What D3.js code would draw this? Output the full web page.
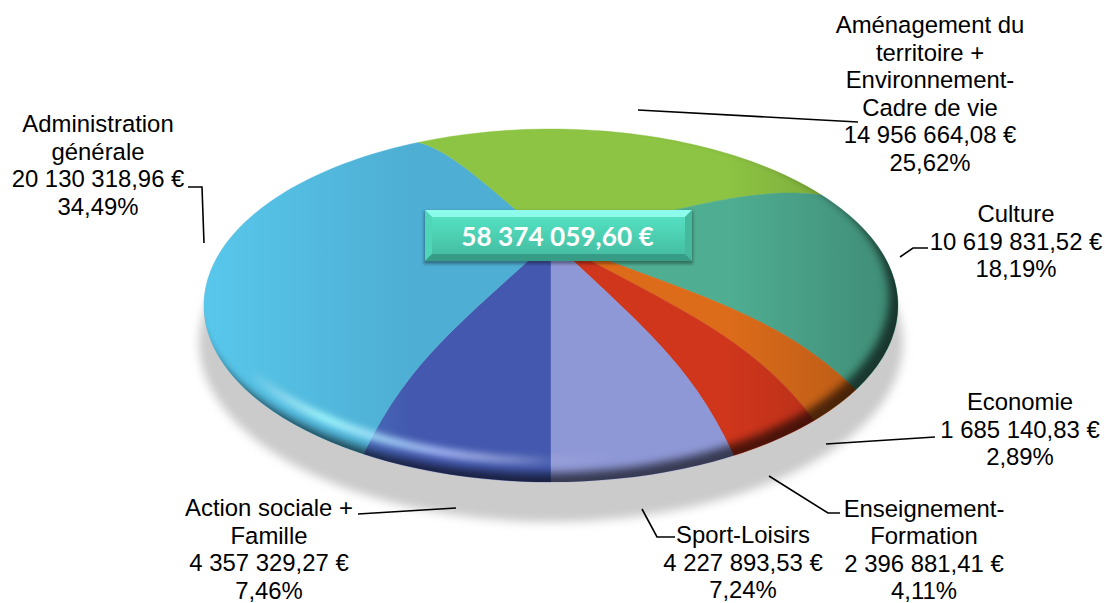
<!DOCTYPE html>
<html><head><meta charset="utf-8">
<script src="https://cdn.jsdelivr.net/npm/d3@7"></script>
<style>html,body{margin:0;padding:0;background:#fff;overflow:hidden}svg{display:block}text{font-family:"Liberation Sans",Arial,sans-serif;fill:#000}</style>
</head><body><svg id="c" width="1105" height="603"></svg>
<script>
// ---- data ----
const categories = ["Action sociale + Famille","Administration générale","Aménagement du territoire + Environnement-Cadre de vie","Culture","Economie","Enseignement-Formation","Sport-Loisirs"];
const amounts = [4357329.27,20130318.96,14956664.08,10619831.52,1685140.83,2396881.41,4227893.53];
const amountLabels = ["4 357 329,27 €","20 130 318,96 €","14 956 664,08 €","10 619 831,52 €","1 685 140,83 €","2 396 881,41 €","4 227 893,53 €"];
const percentLabels = ["7,46%","34,49%","25,62%","18,19%","2,89%","4,11%","7,24%"];
const nameLines = [["Action sociale +","Famille"],["Administration","générale"],["Aménagement du","territoire +","Environnement-","Cadre de vie"],["Culture"],["Economie"],["Enseignement-","Formation"],["Sport-Loisirs"]];
const totalLabel = "58 374 059,60 €";
// ---- styling / layout ----
const colours = ["#4358ae","#4eaed3","#8dc443","#4fae92","#dd6c1a","#d0361c","#8f98d6"];
const labelX = [269,98,930,1016,1020,924,743];
const labelY = [516,132,33,222,410,516.5,543];
const leaders = [
 [[358,514],[456,508]],[[188,187],[202,187],[204,243]],[[638,110],[858,122]],
 [[900,257],[913,248],[928,248]],[[826,444],[935,437]],[[769,476],[828,513],[840,513]],[[642,509],[657,537],[675,537]]];
const svg = d3.select("#c"), defs = svg.append("defs");
const x = d3.scaleLinear([-1,1],[204,898]), y = d3.scaleLinear([-1,1],[129,482]);
const apexY = -0.37;
function rim(a){ const u=Math.sin(a), v=-Math.cos(a), h=0.23-0.03*v, d=1-h*v;
  return [u*Math.sqrt(1-h*h)/d,(v-h)/d]; }
function warp(t,a){ const [ex,ey]=rim(a);
  const bump = t*(1-Math.pow(t,4))*(0.18+0.09*ey);
  return [x(ex*t), y(apexY+(ey-apexY)*t - bump*Math.min(1,Math.abs(ex)/0.15))]; }
const pie = d3.pie().sort(null).startAngle(Math.PI).endAngle(3*Math.PI)(amounts);
const radial = d3.range(0,1.0001,0.05);
const line = d3.line();
function slicePts(s){
  const n=Math.max(8,Math.ceil((s.endAngle-s.startAngle)*40));
  return [...radial.map(t=>warp(t,s.startAngle)),
    ...d3.range(1,n).map(i=>warp(1,s.startAngle+(s.endAngle-s.startAngle)*i/n)),
    ...radial.slice().reverse().map(t=>warp(t,s.endAngle))];
}
const cx=x(0), cy=y(0), rx=x(1)-x(0), ry=y(1)-y(0);
// defs
const blur=(id,s)=>defs.append("filter").attr("id",id).attr("x","-20%").attr("y","-20%").attr("width","140%").attr("height","140%").append("feGaussianBlur").attr("stdDeviation",s);
blur("b4",5);blur("b3",3.5);blur("b1",1.5);blur("b2",4);
defs.append("clipPath").attr("id","pieclip").append("ellipse").attr("cx",cx).attr("cy",cy).attr("rx",rx).attr("ry",ry);
const lg=(id,x1,x2,st)=>{const g=defs.append("linearGradient").attr("id",id).attr("gradientUnits","userSpaceOnUse").attr("x1",x1).attr("x2",x2).attr("y1",0).attr("y2",0);
  st.forEach(s=>g.append("stop").attr("offset",s[0]).attr("stop-color",s[1]).attr("stop-opacity",s[2]));};
lg("hshade",204,898,[[0,"#60dcff",.55],[.3,"#60dcff",0],[.75,"#000",0],[1,"#000",.2]]);
lg("hl",250,620,[[0,"#fff",0],[.2,"#a8ffff",.95],[.52,"#b4c4ff",.9],[.8,"#fff",.1],[1,"#fff",0]]);
const m=defs.append("mask").attr("id","rimmask").attr("maskUnits","userSpaceOnUse").attr("x",0).attr("y",0).attr("width",1105).attr("height",603);
m.append("rect").attr("width",1105).attr("height",603).attr("fill","#fff");
m.append("ellipse").attr("cx",cx-9).attr("cy",cy-9).attr("rx",rx).attr("ry",ry).attr("fill","#000").attr("filter","url(#b2)");
// shadow
svg.append("ellipse").attr("cx",cx).attr("cy",cy+37).attr("rx",rx+5).attr("ry",ry+3).attr("fill","#cbcbcb").attr("filter","url(#b4)");
// slices
svg.append("g").selectAll("path").data(pie).join("path")
  .attr("d",d=>line(slicePts(d))+"Z").attr("fill",(d,i)=>colours[i]).attr("stroke",(d,i)=>colours[i]).attr("stroke-width",.4);
const over=svg.append("g").attr("clip-path","url(#pieclip)");
over.append("rect").attr("x",204).attr("y",129).attr("width",694).attr("height",353).attr("fill","url(#hshade)");
over.append("ellipse").attr("cx",cx).attr("cy",cy-21).attr("rx",rx).attr("ry",ry).attr("fill","none").attr("stroke","url(#hl)").attr("stroke-width",8).attr("filter","url(#b3)");
over.append("rect").attr("x",204).attr("y",129).attr("width",694).attr("height",353).attr("fill","#000").attr("opacity",.62).attr("mask","url(#rimmask)");
// leaders
svg.append("g").selectAll("path").data(leaders).join("path").attr("d",d=>line(d)).attr("fill","none").attr("stroke","#000").attr("stroke-width",1.6);
// labels
const lab=svg.append("g").selectAll("text").data(categories).join("text").attr("font-size",23.9).attr("text-anchor","middle");
lab.each(function(d,i){
  const lines=[...nameLines[i],amountLabels[i],percentLabels[i]];
  d3.select(this).selectAll("tspan").data(lines).join("tspan").attr("x",labelX[i]).attr("y",(l,j)=>labelY[i]+j*27.6).text(l=>l);
});
// total box
const bx=425,by=210,bw=267,bh=51,e=7;
const box=svg.append("g");
box.append("rect").attr("x",bx-1).attr("y",by+1).attr("width",bw+2).attr("height",bh+2).attr("fill","#000").attr("opacity",.35).attr("filter","url(#b1)");
const fg=defs.append("linearGradient").attr("id","face").attr("x1",0).attr("x2",0).attr("y1",0).attr("y2",1);
[[0,"#56e6c6"],[1,"#43b99e"]].forEach(s=>fg.append("stop").attr("offset",s[0]).attr("stop-color",s[1]));
const poly=(p,f)=>box.append("path").attr("d",line(p)+"Z").attr("fill",f);
box.append("rect").attr("x",bx).attr("y",by).attr("width",bw).attr("height",bh).attr("fill","url(#face)");
poly([[bx,by],[bx+bw,by],[bx+bw-e,by+e],[bx+e,by+e]],"#8cfbec");
poly([[bx,by],[bx+e,by+e],[bx+e,by+bh-e],[bx,by+bh]],"#4fd6b8");
poly([[bx+bw,by],[bx+bw-e,by+e],[bx+bw-e,by+bh-e],[bx+bw,by+bh]],"#45b89e");
poly([[bx,by+bh],[bx+e,by+bh-e],[bx+bw-e,by+bh-e],[bx+bw,by+bh]],"#379c85");
box.append("text").attr("x",bx+bw/2-1).attr("y",246).attr("text-anchor","middle").attr("font-size",26.2).attr("font-weight",700)
  .style("font-family","Lato,'Open Sans',sans-serif").style("fill","#fff").text(totalLabel);
</script></body></html>
